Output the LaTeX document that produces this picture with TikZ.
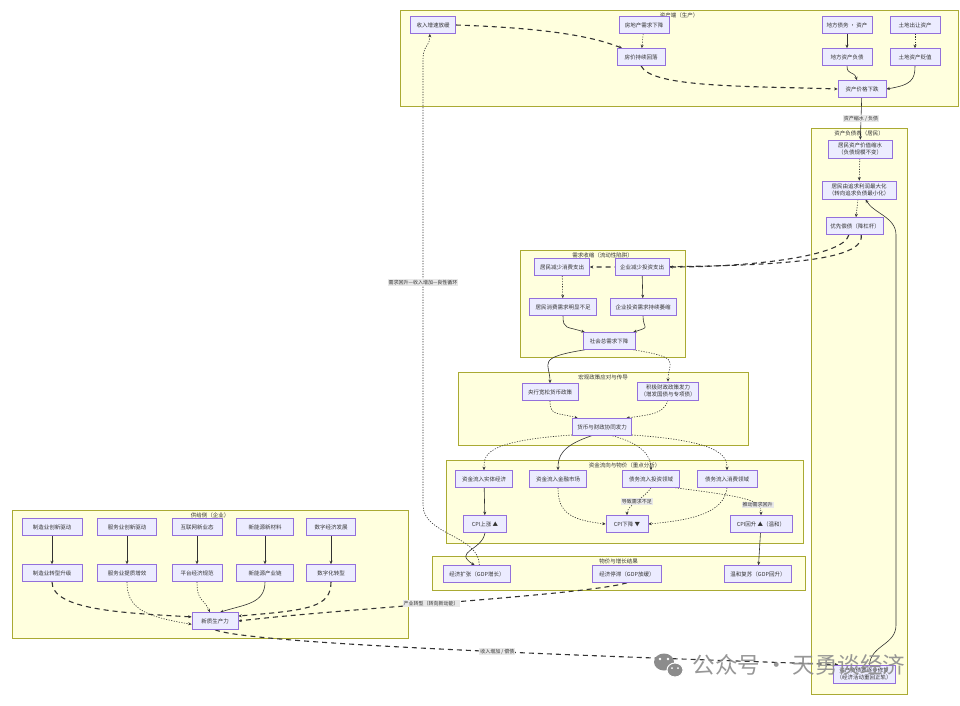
\documentclass[tikz,border=0pt]{standalone}
\usepackage{fontspec}
\newfontfamily\cjk{Noto Sans CJK SC}
\usetikzlibrary{arrows.meta}
\definecolor{cNodo}{HTML}{ECECFF}
\definecolor{cBorde}{HTML}{9370DB}
\definecolor{cGrupo}{HTML}{FFFFDE}
\definecolor{cGrupoB}{HTML}{AAAA33}
\definecolor{cFlecha}{HTML}{333333}
\definecolor{cEtiq}{HTML}{E8E8E8}
\definecolor{cMarca}{HTML}{8C8C8C}
\pgfdeclarelayer{bg}
\pgfdeclarelayer{edges}
\pgfsetlayers{bg,edges,main}
\tikzset{
    box/.style={draw=cBorde, fill=cNodo, line width=0.6pt, align=center,
                font=\cjk\fontsize{5.5}{7}\selectfont, text=cFlecha,
                inner sep=3pt, minimum height=17},
    grp/.style={draw=cGrupoB, fill=cGrupo, line width=0.5pt},
    gname/.style={font=\cjk\fontsize{5.5}{7}\selectfont, text=cFlecha, inner sep=1pt},
    chan/.style={-{Stealth[length=3.5pt, width=3pt]}, line width=0.6pt, cFlecha},
    chdot/.style={chan, dash pattern=on 1.2pt off 1.4pt},
    chthick/.style={chan, line width=1.1pt, dash pattern=on 5pt off 4pt},
    lbl/.style={fill=cEtiq, font=\cjk\fontsize{5}{6}\selectfont, text=cFlecha, inner sep=1pt},
}

\begin{document}
\begin{tikzpicture}[x=1pt, y=-1pt, font=\cjk\fontsize{5.5}{7}\selectfont]

\begin{pgfonlayer}{bg}
\fill[white] (0,0) rectangle (960,705);
\end{pgfonlayer}
\useasboundingbox (0,0) rectangle (960,705);

% grupos
\foreach \xa/\ya/\xb/\yb/\gid/\tit in {%
    400/10/958/106/gA/{资产端（生产）},
    811/128/907/694/gB/{资产负债表（居民）},
    520/250/685/357/gC/{需求收缩（流动性陷阱）},
    458/372/748/445/gD/{宏观政策应对与传导},
    446/460/803/543/gE/{资金流向与物价（重点分析）},
    432/556/805/590/gF/{物价与增长结果},
    12/510/408/638/gG/{供给侧（企业）}}{%
    \begin{pgfonlayer}{bg}
        \draw[grp] (\xa,\ya) rectangle (\xb,\yb);
    \end{pgfonlayer}
    \node[gname] (\gid) at ({(\xa+\xb)/2},\ya+5) {\tit};
}

%资产端
\node[box, minimum width=45] (a1) at (433,25) {收入增速放缓};
\node[box, minimum width=50] (a2) at (644,25) {房地产需求下降};
\node[box, minimum width=50] (a3) at (847,25) {地方债务 · 资产};
\node[box, minimum width=50] (a4) at (915,25) {土地出让资产};
\node[box, minimum width=48] (b1) at (641,57) {房价持续回落};
\node[box, minimum width=50] (b2) at (847,57) {地方资产负债};
\node[box, minimum width=50] (b3) at (915,57) {土地资产贬值};
\node[box, minimum width=48] (c1) at (862,89) {资产价格下跌};

% 居民
\node[box, minimum width=64] (r1) at (860,149) {居民资产价值缩水\\（负债规模不变）};
\node[box, minimum width=74] (r2) at (859,190) {居民由追求利润最大化\\（转向追求负债最小化）};
\node[box, minimum width=57] (r3) at (855,226) {优先偿债（降杠杆）};
\node[box, minimum width=62] (r4) at (864,674) {资产负债表逐步修复\\（经济活动重回正轨）};

% 需求收缩
\node[box, minimum width=55] (m1) at (562,267) {居民减少消费支出};
\node[box, minimum width=54] (m2) at (642,267) {企业减少投资支出};
\node[box, minimum width=67] (m3) at (563,307) {居民消费需求明显不足};
\node[box, minimum width=66] (m4) at (643,307) {企业投资需求持续萎缩};
\node[box, minimum width=52] (m5) at (609,341) {社会总需求下降};

% 政策
\node[box, minimum width=56] (n1) at (550,392) {央行宽松货币政策};
\node[box, minimum width=60] (n2) at (668,391) {积极财政政策发力\\（增发国债与专项债）};
\node[box, minimum width=59] (n3) at (602,427) {货币与财政协同发力};

% 资金流向
\node[box, minimum width=57] (p1) at (484,479) {资金流入实体经济};
\node[box, minimum width=57] (p2) at (558,479) {资金流入金融市场};
\node[box, minimum width=57] (p3) at (651,479) {债务流入投资领域};
\node[box, minimum width=60] (p4) at (727,479) {债务流入消费领域};
\node[box, minimum width=43] (q1) at (485,524) {CPI上涨 ▲};
\node[box, minimum width=42] (q2) at (627,524) {CPI下降 ▼};
\node[box, minimum width=62] (q3) at (761,524) {CPI回升 ▲（温和）};

% 结果
\node[box, minimum width=67] (s1) at (477,574) {经济扩张（GDP增长）};
\node[box, minimum width=69] (s2) at (627,574) {经济停滞（GDP放缓）};
\node[box, minimum width=67] (s3) at (758,574) {温和复苏（GDP回升）};

% 供给侧
\foreach \i/\xx/\w/\ta/\ub in {%
    1/52/60/{制造业创新驱动}/{制造业转型升级},
    2/127/59/{服务业创新驱动}/{服务业提质增效},
    3/197/50/{互联网新业态}/{平台经济规范},
    4/265/57/{新能源新材料}/{新能源产业链},
    5/331/49/{数字经济发展}/{数字化转型}}{%
    \node[box, minimum width=\w] (t\i) at (\xx,527) {\ta};
    \node[box, minimum width=\w] (u\i) at (\xx,573) {\ub};
    \begin{pgfonlayer}{edges}
        \draw[chan] (t\i) -- (u\i);
    \end{pgfonlayer}
}
\node[box, minimum width=46] (z1) at (215,621) {新质生产力};

\coordinate (fbA) at (896,625);
\coordinate (fbB) at (896,235);
\coordinate (lpA) at (423,505);
\coordinate (lpB) at (423,60);

\begin{pgfonlayer}{edges}
\draw[chthick] (a1.east) .. controls +(90,3) and +(-30,-12) .. (b1.155);
\draw[chdot] (a2) -- (b1);
\draw[chan] (a3) -- (b2);
\draw[chdot] (a4) -- (b3);
\draw[chthick] (b1.south) .. controls +(10,22) and +(-90,-3) .. (c1.west);
\draw[chan] (b2.south) .. controls +(0,10) and +(-3,-10) .. (c1.120);
\draw[chan] (b3.south) .. controls +(0,14) and +(25,-4) .. (c1.east);
\draw[chan] (c1) -- (r1) node[lbl, pos=0.5] (lbCR) {资产缩水 / 负债};

\draw[chdot] (r1) -- (r2);
\draw[chdot] (r2) -- (r3);
\draw[chthick] (r3.235) .. controls +(-5,22) and +(80,0) .. (m2.east);
\draw[chthick] (r3.305) .. controls +(5,30) and +(160,0) .. (m1.east);
\draw[chan] (r4.60) .. controls +(2,-20) and +(0,20) .. (fbA) -- (fbB)
    .. controls +(0,-18) and +(8,14) .. (r2.305);

\draw[chdot] (m1) -- (m3);
\draw[chan] (m2) -- (m4);
\draw[chan] (m3.south) .. controls +(0,14) and +(-18,-6) .. (m5.160);
\draw[chan] (m4.south) .. controls +(0,14) and +(18,-6) .. (m5.20);
\draw[chan] (m5.200) .. controls +(-50,8) and +(0,-20) .. (n1.north);
\draw[chdot] (m5.340) .. controls +(50,8) and +(0,-20) .. (n2.north);

\draw[chdot] (n1.south) .. controls +(0,16) and +(-20,-6) .. (n3.160);
\draw[chdot] (n2.south) .. controls +(-5,14) and +(25,-4) .. (n3.20);
\draw[chdot] (n3.195) .. controls +(-90,6) and +(0,-14) .. (p1.north);
\draw[chan] (n3.220) .. controls +(-30,10) and +(0,-14) .. (p2.north);
\draw[chdot] (n3.320) .. controls +(30,8) and +(0,-14) .. (p3.north);
\draw[chdot] (n3.345) .. controls +(90,6) and +(0,-14) .. (p4.north);

\draw[chan] (p1) -- (q1);
\draw[chdot] (p2.south) .. controls +(0,25) and +(-35,-4) .. (q2.west);
\draw[chdot] (p3.south) .. controls +(-6,10) and +(0,-10) .. (q2.north)
    node[lbl, pos=0.5] (lbPQ) {导致需求不足};
\draw[chdot] (p4.south) .. controls +(-3,25) and +(45,-4) .. (q2.east);
\draw[chdot] (p3.340) .. controls +(80,10) and +(0,-14) .. (q3.north)
    node[lbl, pos=0.7] (lbPR) {推动需求回升};
\draw[chan] (q3) -- (s3);
\draw[chan] (q1.south) .. controls +(-3,18) and +(-22,-14) .. (s1.105);
\draw[chdot] (s1.75) .. controls +(0,-30) and +(0,30) .. (lpA) -- (lpB)
    node[lbl, pos=0.5] (lbSA) {需求回升—收入增加—良性循环}
    .. controls +(0,-16) and +(0,14) .. (a1.250);

\draw[chthick] (s2.south) .. controls +(-40,12) and +(100,-12) .. (z1.east)
    node[lbl, pos=0.55] (lbSZ) {产业转型（转向新动能）};
\draw[chthick] (z1.south) .. controls +(40,16) and +(-160,-6) .. (r4.160)
    node[lbl, pos=0.52] (lbZR) {收入增加 / 偿债};

\draw[chthick] (u1.south) .. controls +(0,28) and +(-70,-4) .. (z1.170);
\draw[chdot] (u2.south) .. controls +(0,25) and +(-50,-8) .. (z1.188);
\draw[chdot] (u3.south) .. controls +(0,20) and +(-6,-14) .. (z1.120);
\draw[chan] (u4.south) .. controls +(0,22) and +(25,-8) .. (z1.60);
\draw[chthick] (u5.south) .. controls +(0,26) and +(70,-6) .. (z1.12);
\end{pgfonlayer}

% 水印
\fill[cMarca] (664,662) ellipse (10 and 8.5);
\filldraw[fill=cMarca, draw=white, line width=1pt] (675,670) ellipse (8 and 7);
\foreach \ex/\ey/\er in {660/659/1.3, 668/659/1.3, 672/668/1, 678/668/1}{%
    \fill[white] (\ex,\ey) circle (\er);}
\node[text=cMarca, opacity=0.9, font=\cjk\fontsize{22.5}{26}\selectfont, anchor=west] (wm)
    at (689,665) {公众号 · 天勇谈经济};

\end{tikzpicture}
\end{document}
